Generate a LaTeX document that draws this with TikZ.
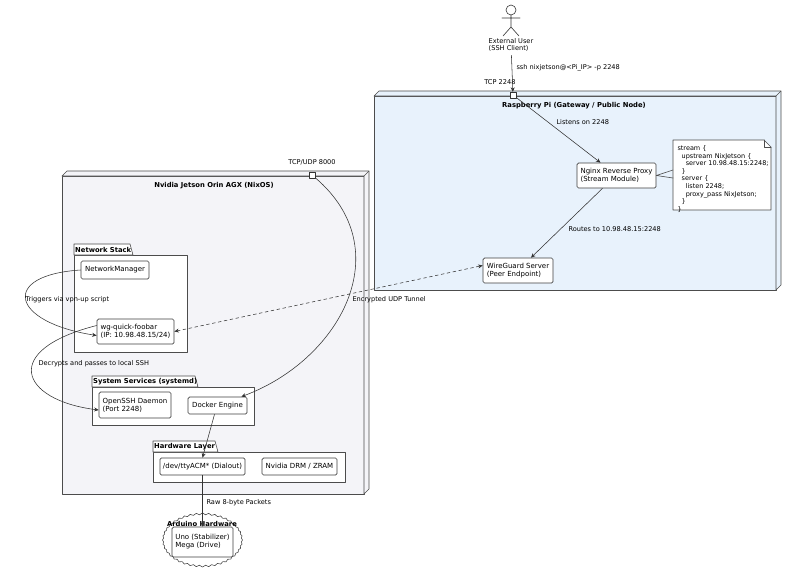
\documentclass[tikz,border=0pt]{standalone}
\usepackage{fontspec}
\setmainfont{DejaVu Sans}
\usetikzlibrary{arrows.meta,shapes.symbols,positioning}
\definecolor{piblue}{HTML}{E8F2FC}
\definecolor{jetgray}{HTML}{F4F4F8}
\tikzset{
  comp/.style={draw=black!75,line width=0.7pt,fill=white,rounded corners=1.5pt,align=left,inner sep=3pt,font=\fontsize{7}{8}\selectfont},
  lbl/.style={font=\fontsize{6.6}{7.6}\selectfont,align=left},
  ttl/.style={font=\bfseries\fontsize{6.8}{7.8}\selectfont},
  conn/.style={draw=black!80,line width=0.55pt,-{Stealth[length=4.5pt,width=4pt]}},
}
% 3d node box
\newcommand{\nodebox}[5]{%
  \fill[#5] (#1,#2) rectangle (#3,#4);
  \draw[black!70,line width=0.6pt] (#1,#2) rectangle (#3,#4);
  \draw[black!70,line width=0.6pt,fill=#5] (#1,#2) -- (#1+5,#2-5) -- (#3+5,#2-5) -- (#3+5,#4-5) -- (#3,#4) -- (#3,#2) -- cycle;
  \draw[black!70,line width=0.6pt] (#3,#2) -- (#3+5,#2-5);}
% package with tab
\newcommand{\pkg}[6]{%
  \draw[black!70,line width=0.6pt,fill=white] (#1,#2) rectangle (#3,#4);
  \draw[black!70,line width=0.6pt,fill=white] (#1,#2) -- (#1,#2-11) -- (#5,#2-11) -- (#5+3,#2) -- cycle;
  \node[ttl,anchor=west,inner sep=1pt] at (#1,#2-5.5) {#6};}
\begin{document}
\begin{tikzpicture}[x=1pt,y=-1pt,line cap=round,line join=round]
\useasboundingbox (0,0) rectangle (790,573);

% actor
\draw[black!80,line width=0.6pt] (511,10) circle (5);
\draw[black!80,line width=0.6pt] (511,15) -- (511,27) (502,18) -- (520,18) (503,36) -- (511,27) -- (519,36);
\node[lbl] (user) at (511,45) {External User\\(SSH Client)};

% raspberry pi
\nodebox{374}{96}{776}{290}{piblue}
\node[ttl] (pititle) at (574,106) {Raspberry Pi (Gateway / Public Node)};
\node[draw=black!80,fill=white,minimum size=6pt,inner sep=0pt] (tcpport) at (513,95) {};
\node[lbl,anchor=south east] at (519,88) {TCP 2248};
\node[comp,minimum width=79pt,minimum height=25pt] (nginx) at (616.5,175.5) {Nginx Reverse Proxy\\(Stream Module)};
\node[comp,minimum width=70pt,minimum height=25pt] (wgsrv) at (518,270.5) {WireGuard Server\\(Peer Endpoint)};
\draw[black!70,line width=0.6pt,fill=white] (673,140) -- (764,140) -- (771,147) -- (771,210) -- (673,210) -- cycle;
\draw[black!70,line width=0.6pt] (764,140) -- (764,147) -- (771,147);
\node[lbl,anchor=north west,font=\fontsize{6.5}{7.6}\selectfont] (note) at (674,142) {stream \{\\\ \ upstream NixJetson \{\\\ \ \ \ server 10.98.48.15:2248;\\\ \ \}\\\ \ server \{\\\ \ \ \ listen 2248;\\\ \ \ \ proxy\_pass NixJetson;\\\ \ \}\\\}};
\draw[black!70,line width=0.6pt] (nginx.east) -- (673,170) (nginx.east) -- (673,178);

% jetson
\nodebox{62}{176}{364}{494}{jetgray}
\node[ttl] (jettitle) at (214,186) {Nvidia Jetson Orin AGX (NixOS)};
\node[draw=black!80,fill=white,minimum size=6pt,inner sep=0pt] (udpport) at (312,175) {};
\node[lbl] at (312,162) {TCP/UDP 8000};

\pkg{74}{255}{187}{352}{130}{Network Stack}
\node[comp,minimum width=68pt,minimum height=18pt] (nm) at (115,270) {NetworkManager};
\node[comp,minimum width=77pt,minimum height=25pt] (wgq) at (135.5,331.5) {wg-quick-foobar\\(IP: 10.98.48.15/24)};

\pkg{92}{387}{254}{425}{195}{System Services (systemd)}
\node[comp,minimum width=72pt,minimum height=26pt] (sshd) at (135,405) {OpenSSH Daemon\\(Port 2248)};
\node[comp,minimum width=59pt,minimum height=17pt] (docker) at (217.5,405.5) {Docker Engine};

\pkg{153}{452}{345}{482}{215}{Hardware Layer}
\node[comp,minimum width=85pt,minimum height=17pt] (tty) at (202.5,466.5) {/dev/ttyACM* (Dialout)};
\node[comp,minimum width=75pt,minimum height=17pt] (drm) at (299.5,466.5) {Nvidia DRM / ZRAM};

% arduino
\node[cloud,cloud puffs=40,cloud puff arc=120,aspect=1.5,draw=black!70,line width=0.6pt,fill=white,minimum width=80pt,minimum height=54pt] (cloud) at (202.5,540) {};
\node[ttl] (ardtitle) at (202,524) {Arduino Hardware};
\node[comp,minimum width=61pt,minimum height=30pt] (uno) at (202.5,542) {Uno (Stabilizer)\\Mega (Drive)};

% connectors
\draw[conn] (user) -- (tcpport);
\node[lbl,anchor=west] at (513,68) {ssh nixjetson@<Pi\_IP> -p 2248};
\draw[conn] (tcpport) -- ([xshift=-16pt]nginx.north);
\node[lbl,anchor=west] at (553,122) {Listens on 2248};
\draw[conn] ([xshift=-14pt]nginx.south) -- ([xshift=13pt]wgsrv.north);
\node[lbl,anchor=west] at (565,229) {Routes to 10.98.48.15:2248};
\draw[conn,{Stealth[length=4.5pt,width=4pt]}-{Stealth[length=4.5pt,width=4pt]},dashed] (wgq.east) -- ([yshift=5pt]wgsrv.west);
\node[lbl,anchor=west] at (349,300) {Encrypted UDP Tunnel};
\draw[conn] (nm.west) .. controls (0,275) and (10,322) .. ([yshift=-4pt]wgq.west);
\node[lbl,anchor=west] at (22,300) {Triggers via vpn-up script};
\draw[conn] ([yshift=6pt]wgq.west) .. controls (0,350) and (20,400) .. ([yshift=-5pt]sshd.west);
\node[lbl,anchor=west] at (35,364) {Decrypts and passes to local SSH};
\draw[conn] (udpport) .. controls (400,250) and (340,360) .. ([xshift=-6pt]docker.north east);
\draw[conn] ([xshift=-3pt]docker.south) -- (tty.north);
\draw[conn] (tty.south) -- (uno.north);
\node[lbl,anchor=west] at (203,503) {Raw 8-byte Packets};
\end{tikzpicture}
\end{document}
